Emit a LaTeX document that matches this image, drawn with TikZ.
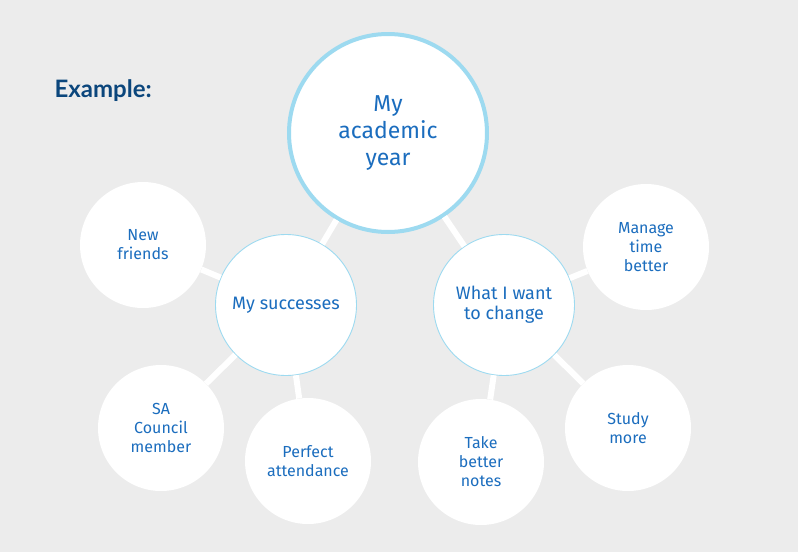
\documentclass[tikz,border=0pt]{standalone}
\usepackage{fontspec}
\setmainfont{Fira Sans}
\newfontfamily\headfont{Lato}
\usetikzlibrary{positioning}
\definecolor{bggray}{HTML}{ECECEC}
\definecolor{ringblue}{HTML}{9DDAF0}
\definecolor{inkblue}{HTML}{1B6DBE}
\definecolor{titleblue}{HTML}{0B467C}
\tikzset{%
  hub/.style = {circle,draw=ringblue,line width=4pt,fill=white,
        minimum size=198pt,inner sep=0pt,align=center,text=inkblue,
        font=\fontsize{23}{27}\selectfont},
  branch/.style = {circle,draw=ringblue,line width=0.9pt,fill=white,
        minimum size=141pt,inner sep=0pt,align=center,text=inkblue,
        font=\fontsize{18}{20}\selectfont},
  leaf/.style = {circle,fill=white,minimum size=126pt,inner sep=0pt,
        align=center,text=inkblue,font=\fontsize{16}{19}\selectfont},
  link/.style = {white,line width=6pt}
}

\begin{document}
\begin{tikzpicture}[x=1pt,y=-1pt]
                            \fill[bggray] (0,0) rectangle (798,552);
                            \useasboundingbox (0,0) rectangle (798,552);
                            \node[anchor=west,text=titleblue,font=\headfont\bfseries\fontsize{24}{27}\selectfont] (title) at (51,91) {Example:};
                            \node[hub] (year) at (388,133) {My\\academic\\year};
                            \node[branch] (succ) at (286,305) {My successes};
                            \node[branch] (change) at (504,305) {What I want\\to change};
                            \node[leaf] (friends) at (143,245) {New\\friends};
                            \node[leaf] (council) at (161,428) {SA\\Council\\member};
                            \node[leaf] (attend) at (308,461) {Perfect\\attendance};
                            \node[leaf] (notes) at (481,462) {Take\\better\\notes};
                            \node[leaf] (study) at (628,428) {Study\\more};
                            \node[leaf] (time) at (646,247) {Manage\\time\\better};
                            \draw[link] (year) -- (succ);
                            \draw[link] (year) -- (change);
                            \draw[link] (succ) -- (friends);
                            \draw[link] (succ) -- (council);
                            \draw[link] (succ) -- (attend);
                            \draw[link] (change) -- (notes);
                            \draw[link] (change) -- (study);
                            \draw[link] (change) -- (time);
                        \end{tikzpicture}
\end{document}
